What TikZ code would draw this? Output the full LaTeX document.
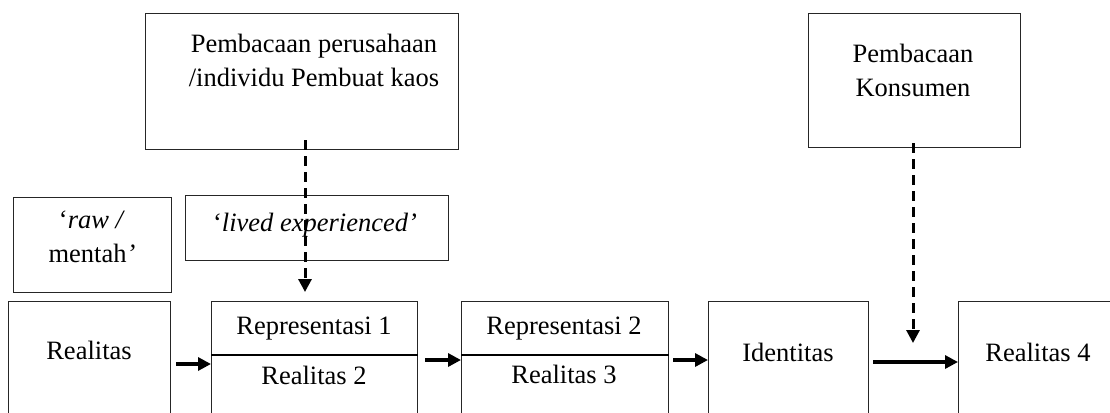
\documentclass[tikz,border=0pt]{standalone}
\usepackage{fontspec}
\setmainfont{Liberation Serif}
\usetikzlibrary{arrows.meta}
\begin{document}
\begin{tikzpicture}[x=1pt,y=-1pt,
  box/.style={draw=black!85,line width=1.3pt,inner sep=0pt,anchor=north west},
  txt/.style={inner sep=0pt,align=center,font=\fontsize{26.5}{34}\selectfont},
  divider/.style={draw=black,line width=1.8pt},
  arr/.style={line width=3.2pt,-{Triangle[length=13pt,width=13pt]}},
  dasharr/.style={line width=3pt,dash pattern=on 10pt off 6pt,-{Triangle[length=13pt,width=13pt]}}]
\clip (0,0) rectangle (1110,412);
\fill[white] (0,0) rectangle (1110,412);
% top boxes
\node[box,minimum width=313pt,minimum height=136pt] (tb) at (145,13) {};
\node[txt] (tbt) at (314,60) {Pembacaan perusahaan\\/individu Pembuat kaos};
\node[box,minimum width=212pt,minimum height=134pt] (kb) at (808,13) {};
\node[txt] (kbt) at (913,70) {Pembacaan\\Konsumen};
% middle boxes
\node[box,minimum width=158pt,minimum height=95pt] (rb) at (13,197) {};
\node[txt] (rbt) at (92,237) {‘\textit{raw /}\\mentah\textit{’}};
\node[box,minimum width=263pt,minimum height=65pt] (lb) at (185,195) {};
\node[txt] (lbt) at (315,225) {‘\textit{lived experienced’}};
% bottom boxes
\node[box,minimum width=162pt,minimum height=130pt] (real) at (8,301) {};
\node[txt] (realt) at (89,350) {Realitas};
\node[box,minimum width=206pt,minimum height=130pt] (rep1) at (211,301) {};
\node[txt] (rep1a) at (314,329) {Representasi 1};
\node[txt] (rep1b) at (314,375) {Realitas 2};
\node[box,minimum width=207pt,minimum height=130pt] (rep2) at (461,301) {};
\node[txt] (rep2a) at (564,329) {Representasi 2};
\node[txt] (rep2b) at (564,374) {Realitas 3};
\node[box,minimum width=160pt,minimum height=130pt] (iden) at (708,301) {};
\node[txt] (ident) at (788,352) {Identitas};
\node[box,minimum width=160pt,minimum height=130pt] (real4) at (958,301) {};
\node[txt] (real4t) at (1038,352) {Realitas 4};
% dividers
\draw[divider] (rep1.west |- 0,355) -- (rep1.east |- 0,355);
\draw[divider] (rep2.west |- 0,355) -- (rep2.east |- 0,355);
% arrows
\draw[arr] ([xshift=5pt]real.east |- 0,364) -- (rep1.west |- 0,364);
\draw[arr] ([xshift=7pt]rep1.east |- 0,360) -- (rep2.west |- 0,360);
\draw[arr] ([xshift=4pt]rep2.east |- 0,360) -- (iden.west |- 0,360);
\draw[arr] ([xshift=4pt]iden.east |- 0,362) -- (real4.west |- 0,362);
% dashed arrows
\coordinate (d1) at (305,292);
\coordinate (d2) at (913,343);
\draw[dasharr] ([yshift=10pt]tb.south -| d1) -- (d1);
\draw[dasharr] ([yshift=5pt]kb.south -| d2) -- (d2);
\end{tikzpicture}
\end{document}
